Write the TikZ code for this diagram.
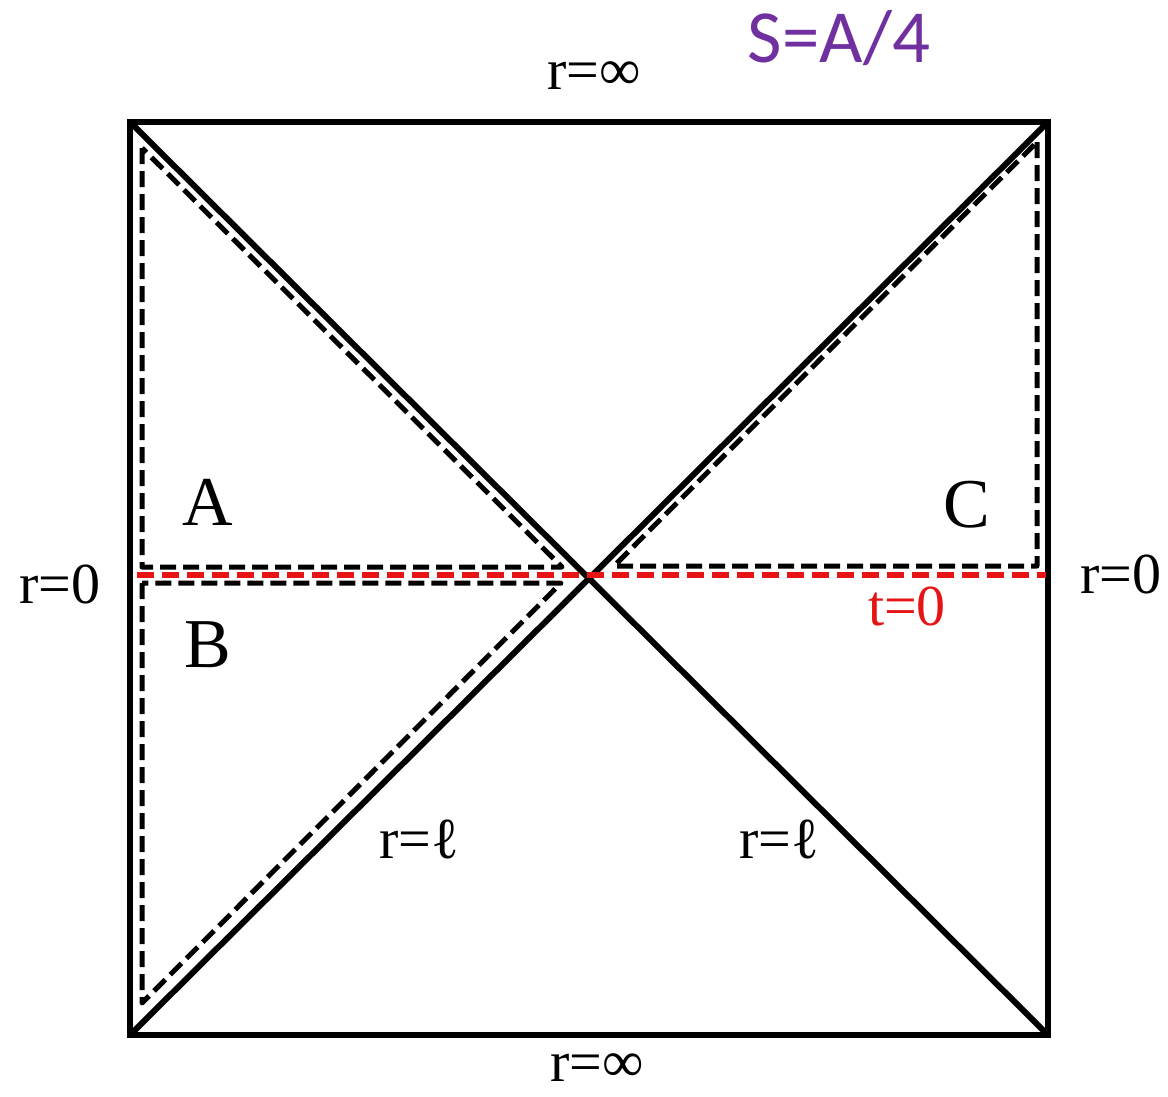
\documentclass[tikz,border=0pt]{standalone}
\usepackage{fontspec}
\setmainfont{Liberation Serif}
\newfontfamily\calfont{Carlito}
\definecolor{officepurple}{HTML}{7030A0}
\definecolor{redline}{RGB}{230,20,20}
\begin{document}
\begin{tikzpicture}[x=1pt,y=-1pt,
  solidline/.style={line width=6pt, line join=miter},
  dashline/.style={line width=5pt, dash pattern=on 16pt off 7pt, line join=round},
  redline/.style={line width=6pt, color=redline, dash pattern=on 17pt off 8pt},
  rlabel/.style={font=\fontsize{58}{60}\selectfont, inner sep=0pt},
  region/.style={font=\fontsize{70}{72}\selectfont, inner sep=0pt}]
\useasboundingbox (0,0) rectangle (1168,1096);
% corners
\coordinate (tl) at (130,122);
\coordinate (tr) at (1048,122);
\coordinate (br) at (1048,1035);
\coordinate (bl) at (130,1035);
\coordinate (c) at (589,578.5);
% square and diagonals
\draw[solidline] (tl) -- (tr) -- (br) -- (bl) -- cycle;
\draw[solidline] (tl) -- (br);
\draw[solidline] (tr) -- (bl);
% dashed regions
\coordinate (a1) at (142,148);
\coordinate (a2) at (142,567);
\coordinate (a3) at (562,567);
\draw[dashline] (a1) -- (a2) -- (a3) -- cycle;
\coordinate (b1) at (142,583);
\coordinate (b2) at (142,1003);
\coordinate (b3) at (561,583);
\draw[dashline] (b1) -- (b2) -- (b3) -- cycle;
\coordinate (c1) at (1037,142);
\coordinate (c2) at (1037,566);
\coordinate (c3) at (614,566);
\draw[dashline] (c1) -- (c2) -- (c3) -- cycle;
% red t=0 line
\coordinate (r1) at (137,575);
\coordinate (r2) at (1046,575);
\draw[redline] (r1) -- (r2);
% labels
\node[rlabel] (rinftop) at (594,76) {r=∞};
\node[rlabel] (rinfbot) at (597,1068) {r=∞};
\node[rlabel] (r0left) at (60,584) {r=0};
\node[rlabel] (r0right) at (1121,574) {r=0};
\node[rlabel, anchor=base] (rell1) at (419,858) {r=ℓ};
\node[rlabel, anchor=base] (rell2) at (779,858) {r=ℓ};
\node[rlabel, text=redline, anchor=base] (t0) at (907,625) {t=0};
\node[region, anchor=base] (A) at (208,525) {A};
\node[region, anchor=base] (B) at (208,667) {B};
\node[region, anchor=base] (C) at (967,527) {C};
\node[font=\calfont\fontsize{75}{78}\selectfont, text=officepurple, inner sep=0pt, anchor=base] (S) at (839,62) {S=A/4};
\end{tikzpicture}
\end{document}
